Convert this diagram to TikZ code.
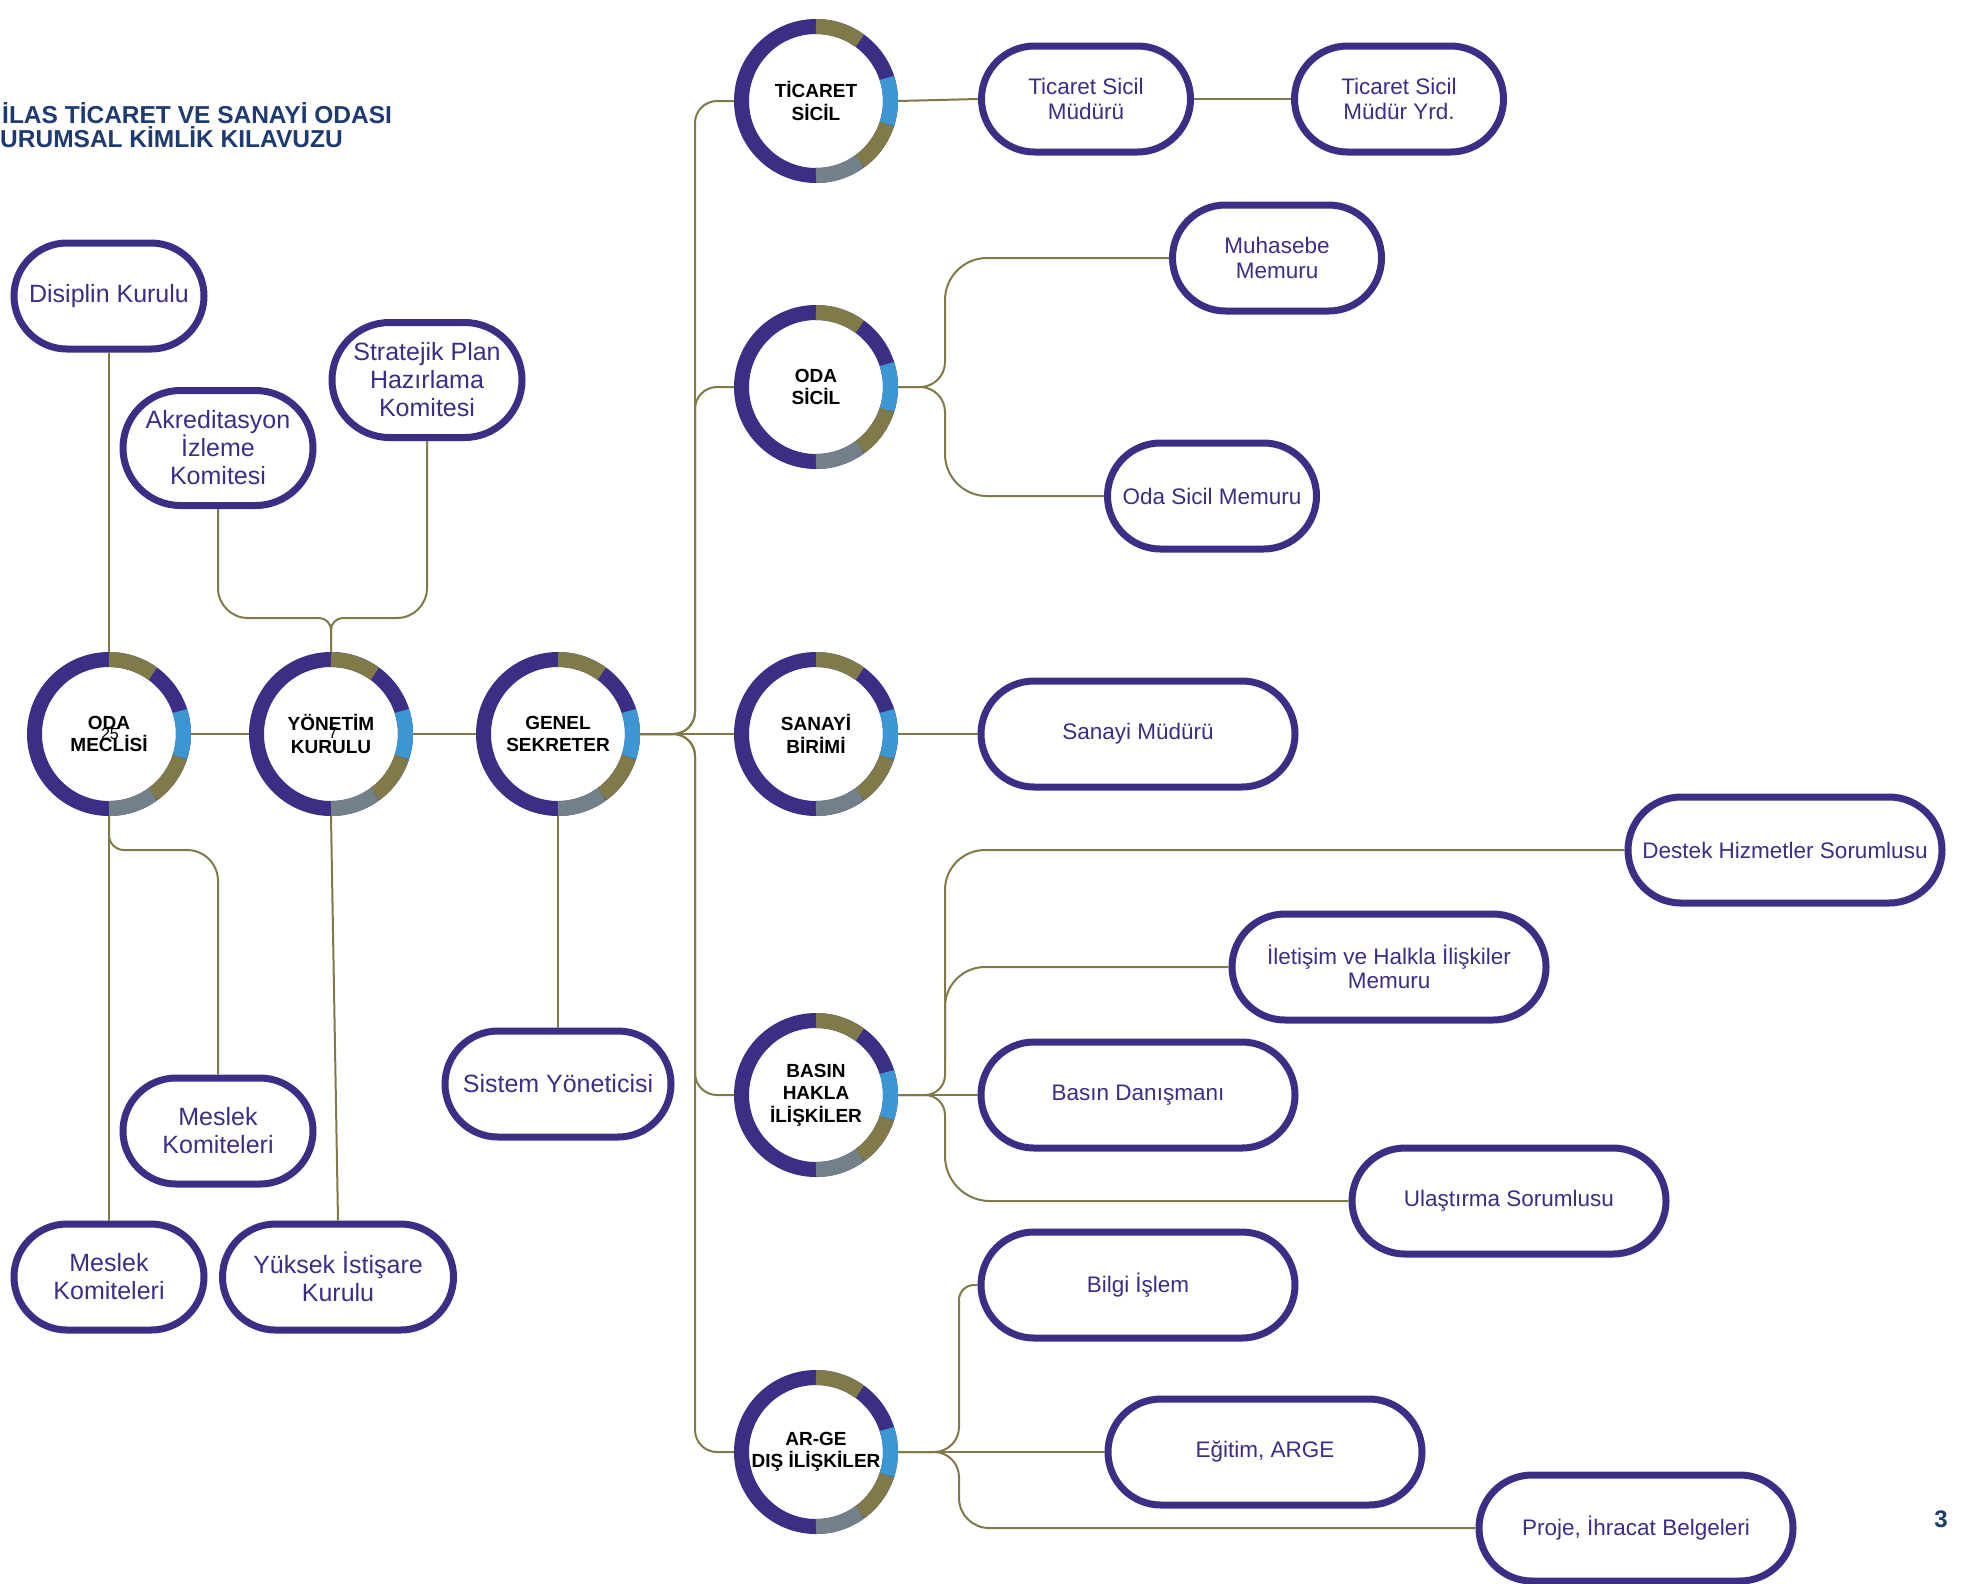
\documentclass[tikz,border=0pt]{standalone}
\usepackage{fontspec}
\setmainfont{Liberation Sans}
\definecolor{navy}{HTML}{3A2F85}
\definecolor{olv}{HTML}{807A4A}
\definecolor{sky}{HTML}{3D96D4}
\definecolor{gry}{HTML}{72808A}
\definecolor{titleblue}{HTML}{1F3A6E}
\begin{document}
\begin{tikzpicture}[x=1pt,y=-1pt,
 hub/.style={circle, fill=white, minimum size=164pt, inner sep=0pt, outer sep=0pt, align=center, font=\bfseries\fontsize{19}{22.5}\selectfont, text=black},
 pill/.style={rectangle, draw=navy, line width=7pt, fill=white, rounded corners=53pt, minimum height=106pt, inner sep=0pt, align=center, text=navy},
 pilltall/.style={pill, minimum height=115pt, rounded corners=57.5pt},
 bigtxt/.style={font=\fontsize{25}{28}\selectfont},
 smalltxt/.style={font=\fontsize{22.5}{24.5}\selectfont},
 conn/.style={draw=olv, line width=2pt},
 seg/.style={line width=15pt}]
\useasboundingbox (0,0) rectangle (1961,1583);

% title and page number
\node[anchor=base west, text=titleblue, font=\bfseries\fontsize{24.5}{28}\selectfont, inner sep=0pt] (t1) at (2,123) {İLAS TİCARET VE SANAYİ ODASI};
\node[anchor=base west, text=titleblue, font=\bfseries\fontsize{24.5}{28}\selectfont, inner sep=0pt] (t2) at (0,147) {URUMSAL KİMLİK KILAVUZU};
\node[anchor=base east, text=titleblue, font=\bfseries\fontsize{24}{26}\selectfont, inner sep=0pt] (pg) at (1948,1527) {3};

% hubs
\node[hub] (om) at (109,734) {ODA\\MECLİSİ};
\node[hub] (yk) at (331,734) {YÖNETİM\\KURULU};
\node[hub] (gs) at (558,734) {GENEL\\SEKRETER};
\node[hub] (ts) at (816,101) {TİCARET\\SİCİL};
\node[hub] (os) at (816,387) {ODA\\SİCİL};
\node[hub] (sb) at (816,734) {SANAYİ\\BİRİMİ};
\node[hub] (bh) at (816,1095) {BASIN\\HAKLA\\İLİŞKİLER};
\node[hub] (ag) at (816,1452) {AR-GE\\DIŞ İLİŞKİLER};

\node[font=\fontsize{16}{16}\selectfont, inner sep=0pt] (n25) at (110,734) {25};
\node[font=\fontsize{16}{16}\selectfont, inner sep=0pt] (n7) at (333,733) {7};

% pills (left)
\node[pill,bigtxt,minimum width=190pt] (dk) at (109,296) {Disiplin Kurulu};
\node[pilltall,bigtxt,minimum width=190pt] (ak) at (218,448) {Akreditasyon\\İzleme\\Komitesi};
\node[pilltall,bigtxt,minimum width=190pt] (sp) at (427,380) {Stratejik Plan\\Hazırlama\\Komitesi};
\node[pill,bigtxt,minimum width=190pt] (mk1) at (218,1131) {Meslek\\Komiteleri};
\node[pill,bigtxt,minimum width=190pt] (mk2) at (109,1277) {Meslek\\Komiteleri};
\node[pill,bigtxt,minimum width=231pt] (yik) at (338,1277) {Yüksek İstişare\\Kurulu};
\node[pill,bigtxt,minimum width=226pt] (sy) at (558,1084) {Sistem Yöneticisi};

% pills (right)
\node[pill,smalltxt,minimum width=209pt] (tsm) at (1086,99) {Ticaret Sicil\\Müdürü};
\node[pill,smalltxt,minimum width=209pt] (tsy) at (1399,99) {Ticaret Sicil\\Müdür Yrd.};
\node[pill,smalltxt,minimum width=209pt] (mm) at (1277,258) {Muhasebe\\Memuru};
\node[pill,smalltxt,minimum width=209pt] (osm) at (1212,496) {Oda Sicil Memuru};
\node[pill,smalltxt,minimum width=314pt] (smd) at (1138,734) {Sanayi Müdürü};
\node[pill,smalltxt,minimum width=314pt] (dh) at (1785,850) {Destek Hizmetler Sorumlusu};
\node[pill,smalltxt,minimum width=314pt] (ih) at (1389,967) {İletişim ve Halkla İlişkiler\\Memuru};
\node[pill,smalltxt,minimum width=314pt] (bd) at (1138,1095) {Basın Danışmanı};
\node[pill,smalltxt,minimum width=314pt] (us) at (1509,1201) {Ulaştırma Sorumlusu};
\node[pill,smalltxt,minimum width=314pt] (bi) at (1138,1285) {Bilgi İşlem};
\node[pill,smalltxt,minimum width=314pt] (ea) at (1265,1452) {Eğitim, ARGE};
\node[pill,smalltxt,minimum width=314pt] (pi) at (1636,1528) {Proje, İhracat Belgeleri};

% connectors: left part
\draw[conn] (dk.south) -- (om.north);
\draw[conn] (om.east) -- (yk.west);
\draw[conn] (yk.east) -- (gs.west);
\draw[conn,rounded corners=30pt] (ak.south) |- (319,618);
\draw[conn,rounded corners=12pt] (319,618) -| (yk.north);
\draw[conn,rounded corners=30pt] (sp.south) |- (343,618);
\draw[conn,rounded corners=12pt] (343,618) -| (yk.north);
\draw[conn] (om.south) -- (mk2.north);
\draw[conn,rounded corners=15pt] (om.south) |- (150,850);
\draw[conn,rounded corners=31pt] (150,850) -| (mk1.north);
\draw[conn] (yk.south) -- (yik.north);
\draw[conn] (gs.south) -- (sy.north);

% connectors: genel sekreter trunk
\draw[conn] (gs.east) -- (sb.west);
\draw[conn,rounded corners=22pt] (gs.east) -- (695,734) -- (695,101) -- (ts.west);
\draw[conn,rounded corners=22pt] (gs.east) -- (695,734) -- (695,387) -- (os.west);
\draw[conn,rounded corners=22pt] (gs.east) -- (695,734) -- (695,1095) -- (bh.west);
\draw[conn,rounded corners=22pt] (gs.east) -- (695,734) -- (695,1452) -- (ag.west);

% ticaret sicil
\draw[conn] (ts.east) -- (tsm.west);
\draw[conn] (tsm.east) -- (tsy.west);

% oda sicil
\draw[conn,rounded corners=25pt] (os.east) -- (945,387) -- (945,340);
\draw[conn,rounded corners=42pt] (945,340) -- (945,258) -- (mm.west);
\draw[conn,rounded corners=25pt] (os.east) -- (945,387) -- (945,434);
\draw[conn,rounded corners=42pt] (945,434) -- (945,496) -- (osm.west);

% sanayi
\draw[conn] (sb.east) -- (smd.west);

% basin
\draw[conn,rounded corners=20pt] (bh.east) -- (945,1095) -- (945,1060);
\draw[conn,rounded corners=40pt] (945,1060) -- (945,850) -- (dh.west);
\draw[conn,rounded corners=40pt] (945,1060) -- (945,967) -- (ih.west);
\draw[conn] (bh.east) -- (bd.west);
\draw[conn,rounded corners=20pt] (bh.east) -- (945,1095) -- (945,1130);
\draw[conn,rounded corners=45pt] (945,1130) -- (945,1201) -- (us.west);

% ar-ge
\draw[conn,rounded corners=25pt] (ag.east) -- (959,1452) -- (959,1410);
\draw[conn,rounded corners=15pt] (959,1410) -- (959,1285) -- (bi.west);
\draw[conn] (ag.east) -- (ea.west);
\draw[conn,rounded corners=25pt] (ag.east) -- (959,1452) -- (959,1488);
\draw[conn,rounded corners=30pt] (959,1488) -- (959,1528) -- (pi.west);

% rings
\foreach \n in {om,yk,gs,ts,os,sb,bh,ag}{
  \draw[seg,navy] (\n.center) circle[radius=74.5pt];
  \draw[seg,olv] (\n.center) ++(90:74.5pt) arc[start angle=90,end angle=54,radius=74.5pt];
  \draw[seg,sky] (\n.center) ++(18:74.5pt) arc[start angle=18,end angle=-18,radius=74.5pt];
  \draw[seg,olv] (\n.center) ++(-18:74.5pt) arc[start angle=-18,end angle=-54,radius=74.5pt];
  \draw[seg,gry] (\n.center) ++(-54:74.5pt) arc[start angle=-54,end angle=-90,radius=74.5pt];
}
\end{tikzpicture}
\end{document}
